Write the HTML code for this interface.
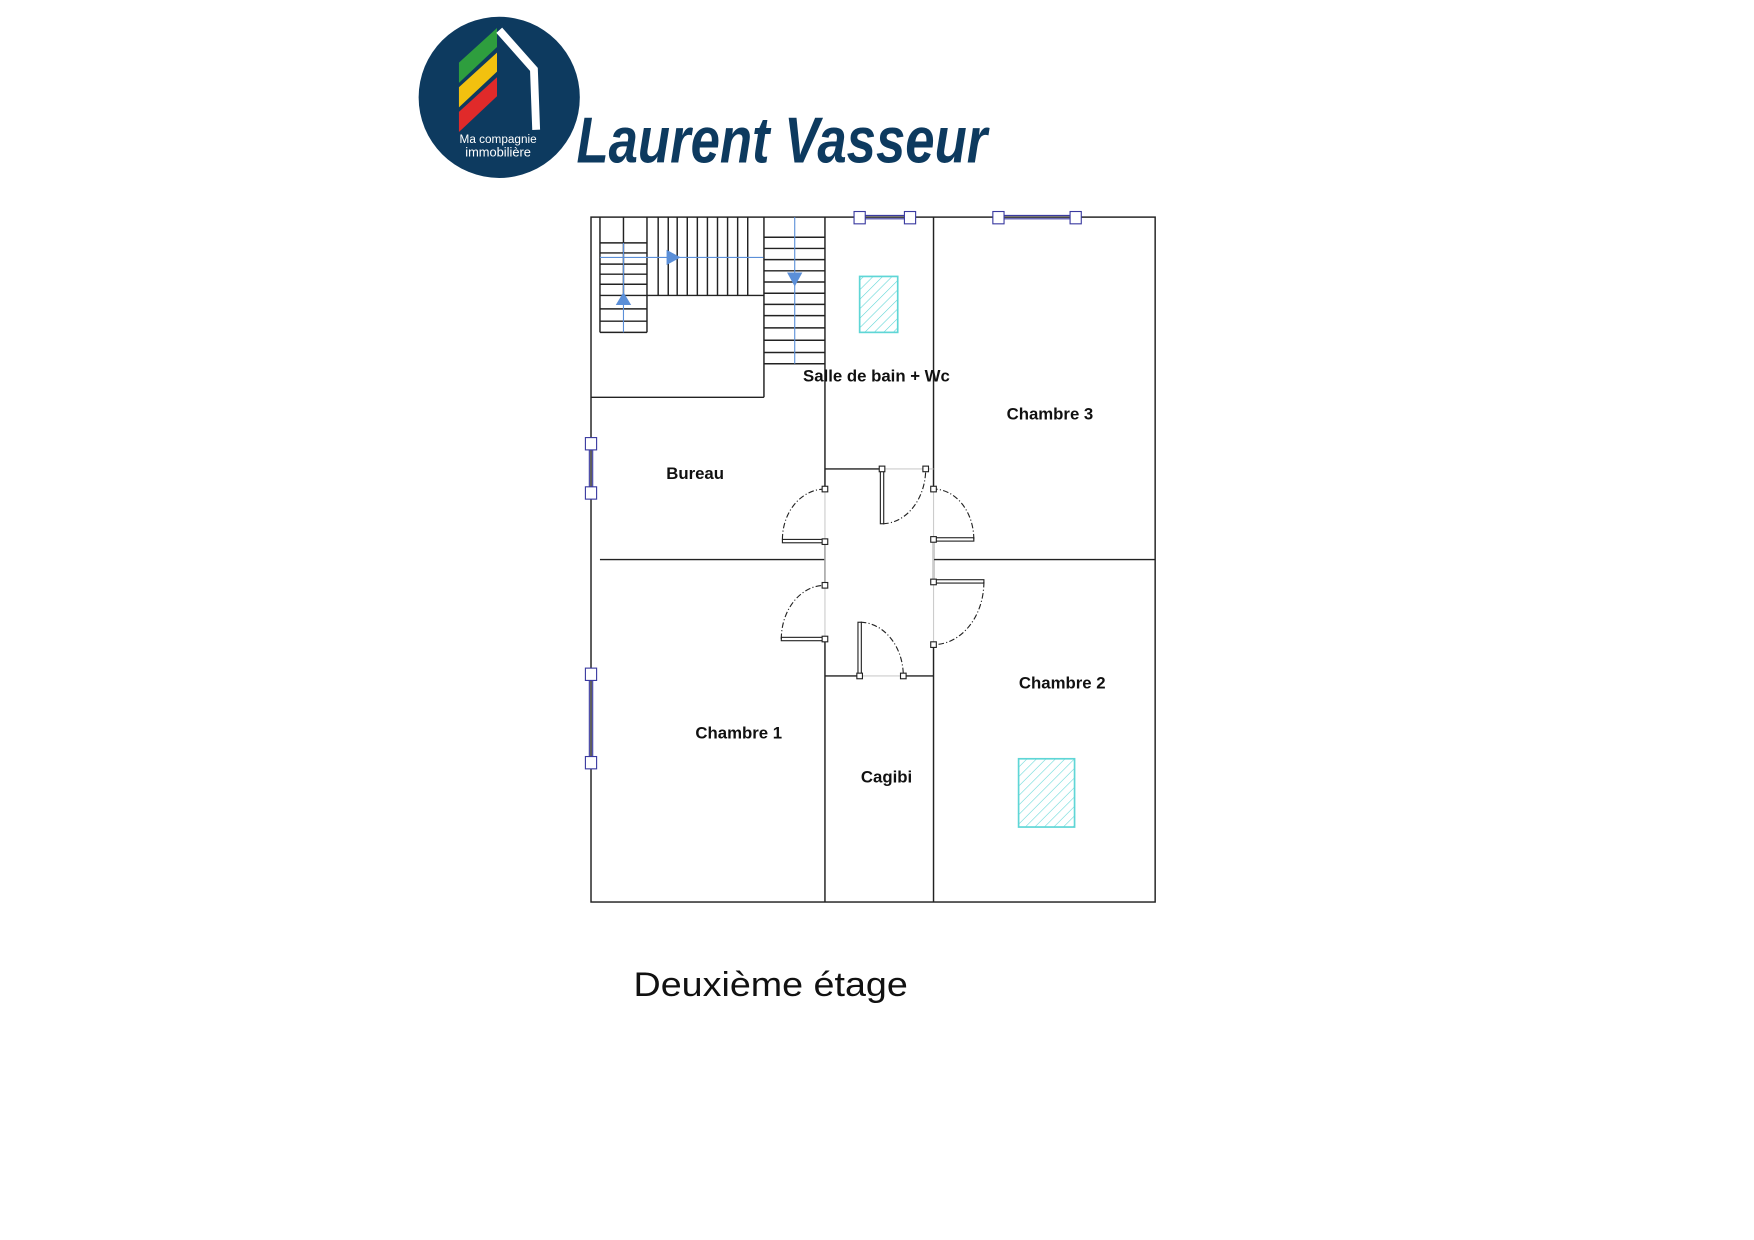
<!DOCTYPE html>
<html><head><meta charset="utf-8"><style>
html,body{margin:0;padding:0;background:#fff;}
svg{display:block;}
.l{font-family:"Liberation Sans Narrow","Liberation Sans",sans-serif;font-weight:bold;font-size:15px;fill:#111;text-anchor:middle;}
</style></head><body>
<svg width="1754" height="1240" viewBox="0 0 1567 1108" preserveAspectRatio="none" xmlns="http://www.w3.org/2000/svg">
<defs>
<pattern id="h" width="6" height="6" patternUnits="userSpaceOnUse" patternTransform="rotate(45)">
<line x1="0" y1="0" x2="0" y2="6" stroke="#5fd6d6" stroke-width="1"/>
</pattern>
</defs>
<circle cx="446" cy="87" r="72" fill="#0d3a5f"/>
<polygon points="410,56 444,25 444,42 410,74" fill="#2e9e3e"/>
<polygon points="410,78 444,47 444,64 410,96" fill="#f2c10f"/>
<polygon points="410,100 444,69 444,86 410,118" fill="#e02a2a"/>
<polyline points="446,27 477,62 479,116" fill="none" stroke="#fff" stroke-width="7"/>
<text x="445" y="128" font-family="Liberation Sans" font-size="10.5" fill="#fff" text-anchor="middle">Ma compagnie</text>
<text x="445" y="140" font-family="Liberation Sans" font-size="11.5" fill="#fff" text-anchor="middle">immobilière</text>
<text x="515" y="145" font-family="Liberation Sans" font-style="italic" font-weight="bold" font-size="58" fill="#0d3a5f" textLength="367" lengthAdjust="spacingAndGlyphs">Laurent Vasseur</text>

<g stroke="#222" stroke-width="1.3" fill="none">
<rect x="528" y="194" width="504" height="612"/>
<line x1="528" y1="355" x2="682.5" y2="355"/>
<line x1="682.5" y1="194" x2="682.5" y2="355"/>
<line x1="536" y1="264" x2="682.5" y2="264"/>
<line x1="536" y1="194" x2="536" y2="297"/>
<line x1="578" y1="194" x2="578" y2="297"/>
<line x1="536" y1="297" x2="578" y2="297"/>
<line x1="557" y1="194" x2="557" y2="264"/>
<g>
<line x1="536" y1="217" x2="578" y2="217"/><line x1="536" y1="226" x2="578" y2="226"/>
<line x1="536" y1="236" x2="578" y2="236"/><line x1="536" y1="245" x2="578" y2="245"/>
<line x1="536" y1="254" x2="578" y2="254"/><line x1="536" y1="276" x2="578" y2="276"/>
<line x1="536" y1="287" x2="578" y2="287"/>
</g>
<g>
<line x1="588" y1="194" x2="588" y2="264"/><line x1="597" y1="194" x2="597" y2="264"/>
<line x1="605" y1="194" x2="605" y2="264"/><line x1="614" y1="194" x2="614" y2="264"/>
<line x1="623" y1="194" x2="623" y2="264"/><line x1="632" y1="194" x2="632" y2="264"/>
<line x1="641" y1="194" x2="641" y2="264"/><line x1="650" y1="194" x2="650" y2="264"/>
<line x1="659" y1="194" x2="659" y2="264"/><line x1="668" y1="194" x2="668" y2="264"/>
</g>
<g>
<line x1="682.5" y1="212" x2="737" y2="212"/><line x1="682.5" y1="222" x2="737" y2="222"/>
<line x1="682.5" y1="232" x2="737" y2="232"/><line x1="682.5" y1="242" x2="737" y2="242"/>
<line x1="682.5" y1="252" x2="737" y2="252"/><line x1="682.5" y1="262" x2="737" y2="262"/>
<line x1="682.5" y1="272" x2="737" y2="272"/><line x1="682.5" y1="282" x2="737" y2="282"/>
<line x1="682.5" y1="293" x2="737" y2="293"/><line x1="682.5" y1="304" x2="737" y2="304"/>
<line x1="682.5" y1="315" x2="737" y2="315"/><line x1="682.5" y1="325" x2="737" y2="325"/>
</g>
<line x1="737" y1="194" x2="737" y2="437"/><line x1="737" y1="484" x2="737" y2="523"/><line x1="737" y1="571" x2="737" y2="806"/>
<line x1="834" y1="194" x2="834" y2="437"/><line x1="834" y1="482" x2="834" y2="520"/><line x1="834" y1="576" x2="834" y2="806"/>
<line x1="536" y1="500" x2="737" y2="500"/><line x1="834" y1="500" x2="1032" y2="500"/>
<line x1="737" y1="419" x2="788" y2="419"/>
<line x1="737" y1="604" x2="768" y2="604"/><line x1="807" y1="604" x2="834" y2="604"/>
</g>
<g stroke="#ccc" stroke-width="1">
<line x1="788" y1="419" x2="834" y2="419"/><line x1="768" y1="604" x2="807" y2="604"/>
<line x1="737" y1="437" x2="737" y2="571"/><line x1="834" y1="437" x2="834" y2="576"/>
</g>
<g stroke="#5b8fd8" stroke-width="1" fill="#5b8fd8">
<line x1="536" y1="230" x2="682" y2="230"/>
<line x1="557" y1="217" x2="557" y2="297"/>
<line x1="710" y1="194" x2="710" y2="325"/>
<polygon points="596,224 607,230 596,236"/>
<polygon points="551,272 557,262 563,272"/>
<polygon points="704,244 716,244 710,255"/>
</g>
<g stroke="#222" stroke-width="1" fill="#fff">
<rect x="699" y="482" width="38" height="3"/>
<rect x="786.5" y="419" width="3" height="49"/>
<rect x="834" y="480.5" width="36" height="3"/>
<rect x="834" y="518" width="45" height="3"/>
<rect x="698" y="569.5" width="39" height="3"/>
<rect x="766.5" y="556" width="3" height="48"/>
</g>
<g stroke="#222" stroke-width="1" fill="none" stroke-dasharray="5,2,1,2">
<path d="M699,482 A38,45 0 0 1 737,437"/>
<path d="M789,468 A39,49 0 0 0 827,419"/>
<path d="M870,482 A36,45 0 0 0 834,437"/>
<path d="M879,520 A45,56 0 0 1 834,576"/>
<path d="M698,571 A39,48 0 0 1 737,523"/>
<path d="M769,556 A39,48 0 0 1 807,604"/>
</g>
<g stroke="#222" stroke-width="1" fill="#fff">
<rect x="734.5" y="434.5" width="5" height="5"/><rect x="734.5" y="481.5" width="5" height="5"/>
<rect x="785.5" y="416.5" width="5" height="5"/><rect x="824.5" y="416.5" width="5" height="5"/>
<rect x="831.5" y="434.5" width="5" height="5"/><rect x="831.5" y="479.5" width="5" height="5"/>
<rect x="831.5" y="517.5" width="5" height="5"/><rect x="831.5" y="573.5" width="5" height="5"/>
<rect x="734.5" y="520.5" width="5" height="5"/><rect x="734.5" y="568.5" width="5" height="5"/>
<rect x="765.5" y="601.5" width="5" height="5"/><rect x="804.5" y="601.5" width="5" height="5"/>
</g>
<g stroke="#3a3aa0" stroke-width="1" fill="#fff">
<line x1="768" y1="192.5" x2="813" y2="192.5"/><line x1="768" y1="195.5" x2="813" y2="195.5"/>
<line x1="892" y1="192.5" x2="961" y2="192.5"/><line x1="892" y1="195.5" x2="961" y2="195.5"/>
<line x1="526.5" y1="397" x2="526.5" y2="440"/><line x1="529.5" y1="397" x2="529.5" y2="440"/>
<line x1="526.5" y1="602" x2="526.5" y2="682"/><line x1="529.5" y1="602" x2="529.5" y2="682"/>
<rect x="763" y="189" width="10" height="11"/><rect x="808" y="189" width="10" height="11"/>
<rect x="887" y="189" width="10" height="11"/><rect x="956" y="189" width="10" height="11"/>
<rect x="523" y="391" width="10" height="11"/><rect x="523" y="435" width="10" height="11"/>
<rect x="523" y="597" width="10" height="11"/><rect x="523" y="676" width="10" height="11"/>
</g>
<rect x="768" y="247" width="34" height="50" fill="url(#h)" stroke="#5fd6d6" stroke-width="1.5"/>
<rect x="910" y="678" width="50" height="61" fill="url(#h)" stroke="#5fd6d6" stroke-width="1.5"/>
<text class="l" x="783" y="341">Salle de bain + Wc</text>
<text class="l" x="938" y="375">Chambre 3</text>
<text class="l" x="621" y="428">Bureau</text>
<text class="l" x="660" y="660">Chambre 1</text>
<text class="l" x="792" y="699">Cagibi</text>
<text class="l" x="949" y="615">Chambre 2</text>
<text x="566" y="890" font-family="Liberation Sans" font-size="31" fill="#111" textLength="245" lengthAdjust="spacingAndGlyphs">Deuxième étage</text>
</svg>
</body></html>
